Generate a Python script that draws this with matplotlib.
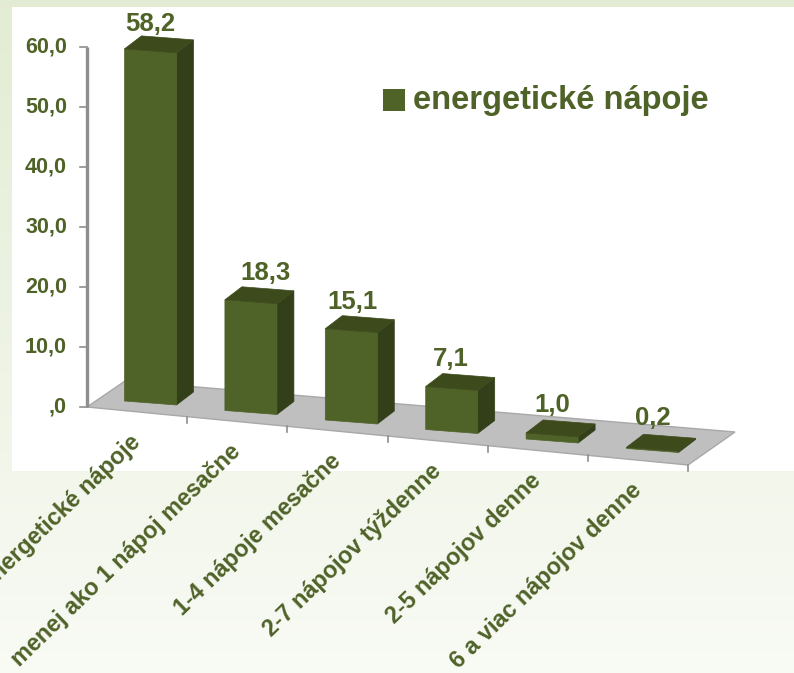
import numpy as np
import matplotlib
matplotlib.use("Agg")
import matplotlib.pyplot as plt
from matplotlib.patches import Polygon, Rectangle

plt.rcParams['font.family'] = ['Liberation Sans', 'DejaVu Sans']

categories = ["energetické nápoje", "menej ako 1 nápoj mesačne", "1-4 nápoje mesačne",
              "2-7 nápojov týždenne", "2-5 nápojov denne", "6 a viac nápojov denne"]
values = [58.2, 18.3, 15.1, 7.1, 1.0, 0.2]
value_labels = ["58,2", "18,3", "15,1", "7,1", "1,0", "0,2"]
y_ticks = [0, 10, 20, 30, 40, 50, 60]
y_tick_labels = [",0", "10,0", "20,0", "30,0", "40,0", "50,0", "60,0"]
legend_label = "energetické nápoje"

# -------------------- Layout (pixels) --------------------
W, H = 794, 673
GREEN = "#4F6228"
SIDE = "#333F18"
TOP = "#3D4B1C"
FLOOR = "#BFBFBF"
AXIS = "#8E8E8E"
px_per_unit = 6.05
bar_w = 52
step = 100.4
depth_x, depth_y = 17, -13
label_dx = [-8, 7, -7, -9, -8, -8]
label_dy = [4, 2, 2, 1, 1, 0]

fig = plt.figure(figsize=(W / 100, H / 100), dpi=100)
ax = fig.add_axes([0, 0, 1, 1])
ax.set_xlim(0, W)
ax.set_ylim(H, 0)
ax.axis("off")

# background gradient + white chart panel
grad = np.linspace(0, 1, 256).reshape(-1, 1)
top_c = np.array([0.890, 0.925, 0.830])
bot_c = np.array([0.975, 0.983, 0.960])
img = (top_c + (bot_c - top_c) * grad[..., None]).reshape(256, 1, 3)
ax.imshow(img, extent=[0, W, H, 0], aspect="auto", zorder=0)
ax.set_xlim(0, W)
ax.set_ylim(H, 0)
ax.add_patch(Rectangle((12, 7), W - 12, 464, fc="white", ec="none", zorder=1))

# floor
ax.add_patch(Polygon([(87, 407), (125, 381), (735, 432), (688, 465)],
                     fc=FLOOR, ec="#A8A8A8", lw=1, zorder=2))

# y axis
y0 = 407
def y_pos(v):
    return y0 - v * 6.0

ax.plot([87, 87], [y_pos(60), y0], color=AXIS, lw=2.4, zorder=3, solid_capstyle="butt")
for t, lab in zip(y_ticks, y_tick_labels):
    ax.plot([80, 87], [y_pos(t), y_pos(t)], color=AXIS, lw=1.2, zorder=3)
    ax.text(67, y_pos(t), lab, ha="right", va="center", fontsize=15.5,
            fontweight="bold", color=GREEN, zorder=5)

# x ticks + category labels
for i, cat in enumerate(categories):
    tx = 87 + (i + 1) * 100.2
    ty = 408 + (i + 1) * 9.65
    ax.plot([tx, tx], [ty - 1, ty + 5], color=AXIS, lw=1.2, zorder=3)
    ax.text(tx - 50, ty + 21, cat, rotation=44, rotation_mode="anchor", ha="right", va="center",
            fontsize=16.8, fontweight="bold", color=GREEN, zorder=5, clip_on=True)

# bars
for i, v in enumerate(values):
    x0 = 124.5 + i * step
    yb = 401 + i * 9.5
    slope = 4
    h = v * px_per_unit
    fl, fr = (x0, yb - h), (x0 + bar_w, yb + slope - h)
    bl, br = (x0, yb), (x0 + bar_w, yb + slope)
    bk_top = (fr[0] + depth_x, fr[1] + depth_y)
    bk_bot = (br[0] + depth_x, br[1] + depth_y)
    bk_left = (fl[0] + depth_x, fl[1] + depth_y)
    ax.add_patch(Polygon([fr, br, bk_bot, bk_top], fc=SIDE, ec=SIDE, lw=0.5, zorder=4))
    ax.add_patch(Polygon([fl, bl, br, fr], fc=GREEN, ec=GREEN, lw=0.5, zorder=4))
    ax.add_patch(Polygon([fl, fr, bk_top, bk_left], fc=TOP, ec=TOP, lw=0.5, zorder=4))
    ax.text(x0 + 34 + label_dx[i], fl[1] + depth_y - 16 + label_dy[i], value_labels[i],
            ha="center", va="center", fontsize=18.5, fontweight="bold", color=GREEN, zorder=6)

# legend
ax.add_patch(Rectangle((383, 89), 22, 22, fc=GREEN, ec="none", zorder=5))
ax.text(413, 101, legend_label, ha="left", va="center", fontsize=23.5,
        fontweight="bold", color=GREEN, zorder=5)

fig.savefig("out.png", dpi=100)
